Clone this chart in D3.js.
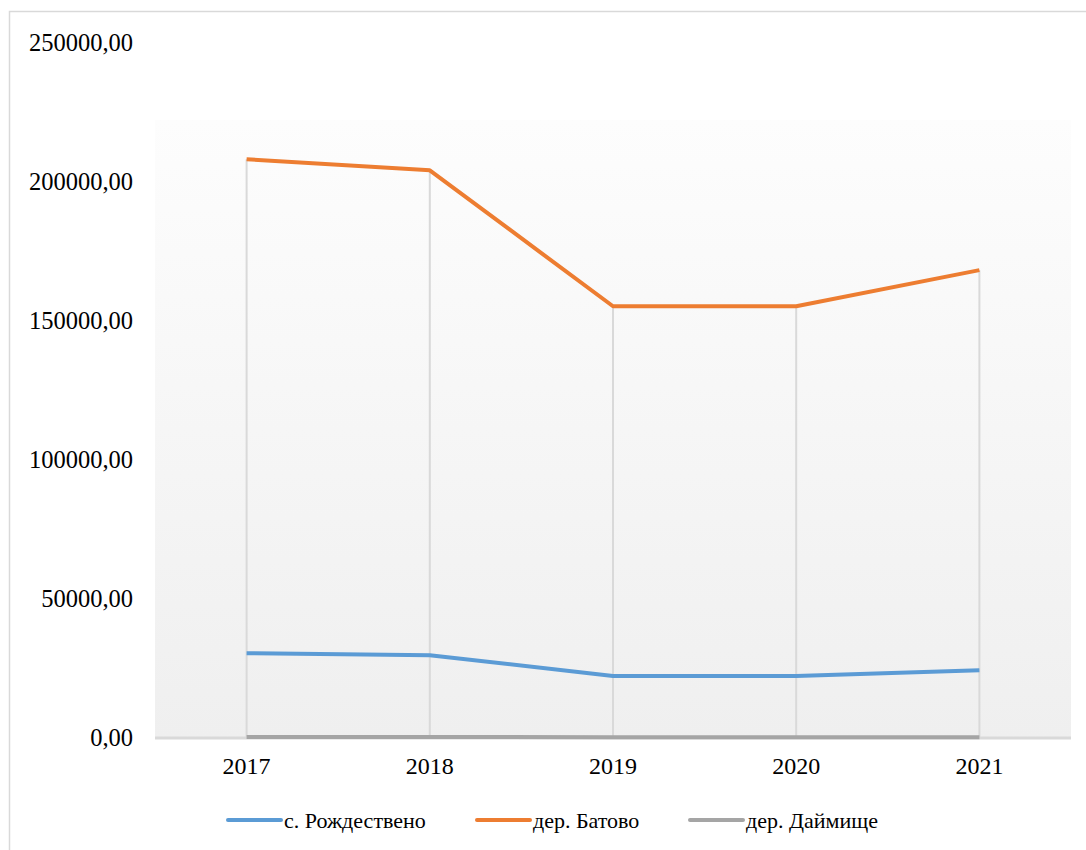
<!DOCTYPE html>
<html>
<head>
<meta charset="utf-8">
<script src="https://cdn.jsdelivr.net/npm/d3@7"></script>
<style>
  body { margin: 0; background: #fff; }
</style>
</head>
<body>
<div id="chart"></div>
<script>
// data
var years = ["2017", "2018", "2019", "2020", "2021"];
var rozhdestveno = [30500, 29800, 22300, 22300, 24400];
var batovo = [208200, 204200, 155300, 155300, 168300];
var daymishche = [400, 400, 300, 300, 300];
var seriesNames = ["с. Рождествено", "дер. Батово", "дер. Даймище"];
var seriesColors = ["#5b9bd5", "#ed7d31", "#a5a5a5"];
var yTicks = [0, 50000, 100000, 150000, 200000, 250000];

var serif = "'Liberation Serif', 'Times New Roman', serif";
var width = 1086, height = 850;
var plot = {left: 155, right: 1071, top: 120, bottom: 738}; // plot area box

var svg = d3.select("#chart").append("svg")
    .attr("width", width)
    .attr("height", height);

// gradient fill of the plot area
var grad = svg.append("defs").append("linearGradient")
    .attr("id", "plotfill")
    .attr("x1", 0).attr("y1", 0).attr("x2", 0).attr("y2", 1);
grad.append("stop").attr("offset", "0%").attr("stop-color", "#fdfdfd");
grad.append("stop").attr("offset", "100%").attr("stop-color", "#efefef");

// outer chart border
svg.append("rect")
    .attr("x", 9.5).attr("y", 11.5)
    .attr("width", 1100).attr("height", 860)
    .attr("fill", "none")
    .attr("stroke", "#d9d9d9")
    .attr("stroke-width", 1.5);

svg.append("rect")
    .attr("x", plot.left).attr("y", plot.top)
    .attr("width", plot.right - plot.left)
    .attr("height", plot.bottom - plot.top)
    .attr("fill", "url(#plotfill)");

var x = d3.scaleBand().domain(years).range([plot.left, plot.right]).padding(0);
var y = d3.scaleLinear().domain([0, 250000]).range([plot.bottom, 43]);
var cx = function(d) { return x(d) + x.bandwidth() / 2; };

var fmt = function(v) { return d3.format(".2f")(v).replace(".", ","); };

// y axis labels only, no line or ticks
var yAxis = d3.axisLeft(y).tickValues(yTicks).tickFormat(fmt).tickSize(0).tickPadding(0);
var gy = svg.append("g")
    .attr("transform", "translate(133,0)")
    .call(yAxis);
gy.attr("font-family", null).attr("font-size", null);
gy.select(".domain").remove();
gy.selectAll("text")
    .attr("fill", "#000")
    .style("font-family", serif)
    .style("font-size", "24.5px");

// x axis labels
var xAxis = d3.axisBottom(x).tickSize(0).tickPadding(0);
var gx = svg.append("g")
    .attr("transform", "translate(0," + (plot.bottom + 19) + ")")
    .call(xAxis);
gx.attr("font-family", null).attr("font-size", null);
gx.select(".domain").remove();
gx.selectAll("text")
    .attr("fill", "#000")
    .style("font-family", serif)
    .style("font-size", "24px");

// drop lines from the highest point down to the axis
var maxes = years.map(function(yr, i) { return Math.max(rozhdestveno[i], batovo[i], daymishche[i]); });
svg.append("g").selectAll("line")
    .data(years)
    .join("line")
    .attr("x1", cx).attr("x2", cx)
    .attr("y1", function(d, i) { return y(maxes[i]); })
    .attr("y2", y(0))
    .attr("stroke", "#d9d9d9")
    .attr("stroke-width", 2);

// category axis line
svg.append("line")
    .attr("x1", plot.left).attr("x2", plot.right)
    .attr("y1", y(0)).attr("y2", y(0))
    .attr("stroke", "#d9d9d9")
    .attr("stroke-width", 3);

var line = d3.line()
    .x(function(d, i) { return cx(years[i]); })
    .y(function(d) { return y(d); });

[rozhdestveno, batovo, daymishche].forEach(function(vals, k) {
    svg.append("path")
        .datum(vals)
        .attr("fill", "none")
        .attr("stroke", seriesColors[k])
        .attr("stroke-width", 4)
        .attr("stroke-linejoin", "round")
        .attr("d", line);
});

// legend
var legendStarts = [228, 477, 690];
var leg = svg.append("g").attr("transform", "translate(0,820)");
seriesNames.forEach(function(name, k) {
    var g = leg.append("g").attr("transform", "translate(" + legendStarts[k] + ",0)");
    g.append("line")
        .attr("x1", 0).attr("x2", 53)
        .attr("stroke", seriesColors[k])
        .attr("stroke-width", 4)
        .attr("stroke-linecap", "round");
    g.append("text")
        .attr("x", 56)
        .attr("dy", "0.35em")
        .attr("fill", "#000")
        .style("font-family", serif)
        .style("font-size", "22px")
        .text(name);
});
</script>
</body>
</html>
